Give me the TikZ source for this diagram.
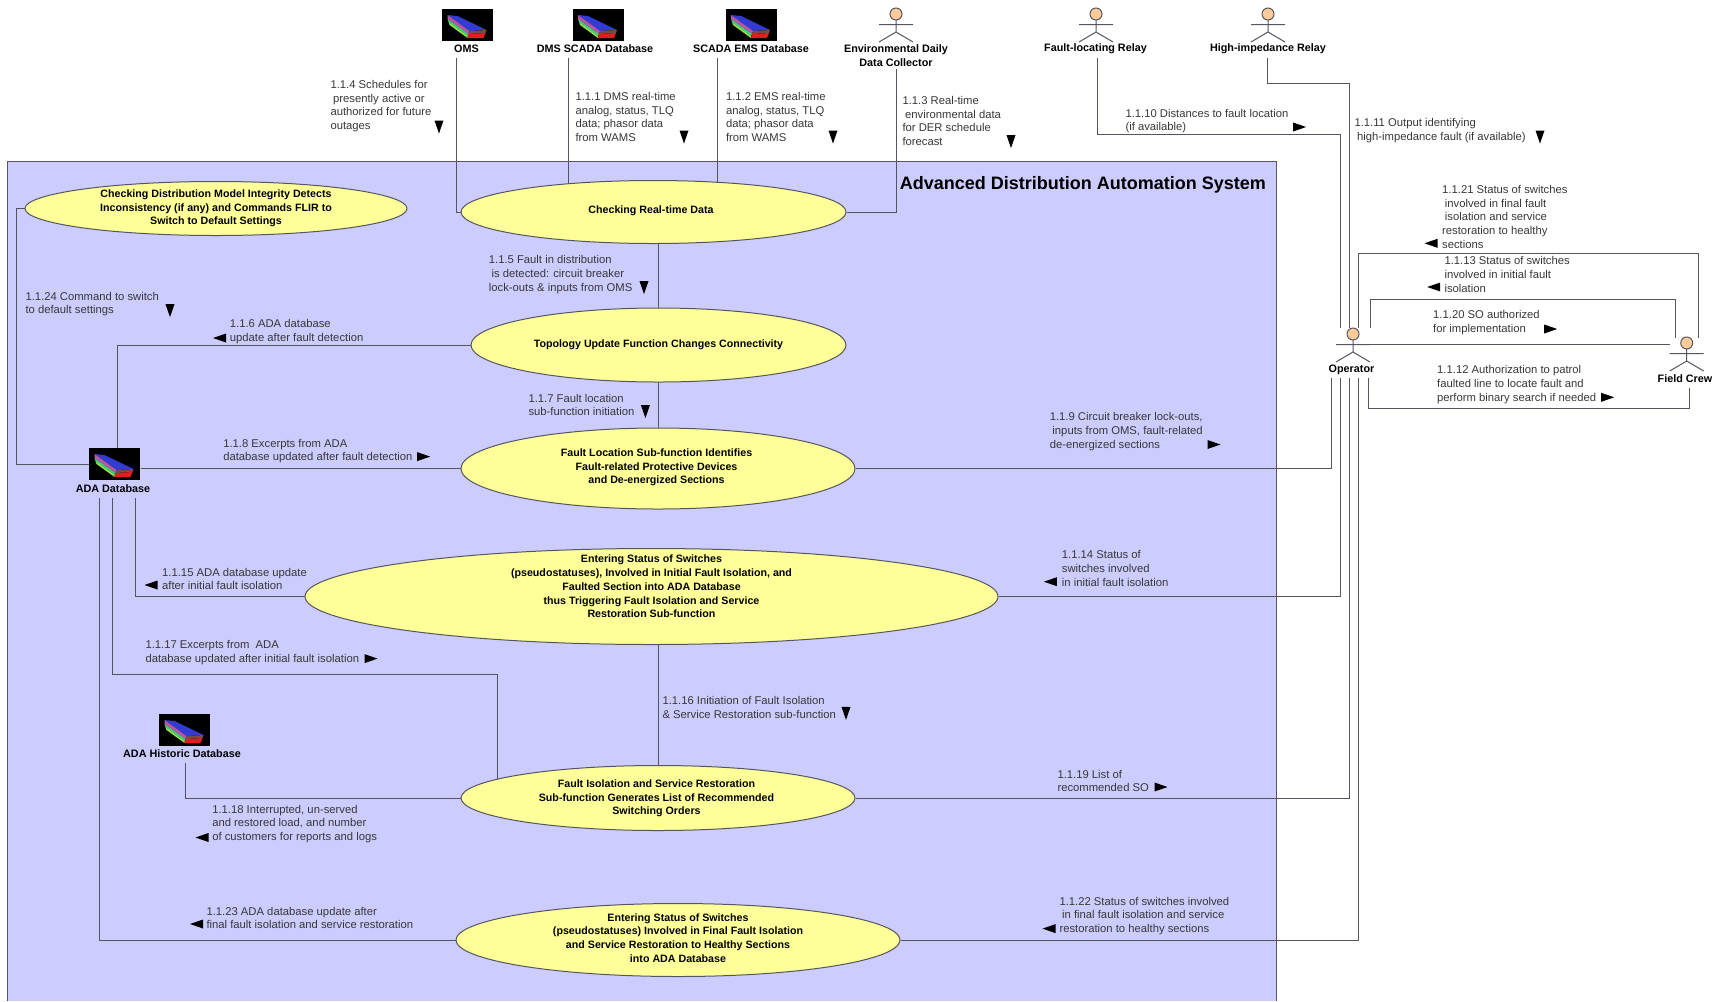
\documentclass[tikz,border=0pt]{standalone}
\usepackage{fontspec}
\setmainfont{Liberation Sans}
\usetikzlibrary{shapes.geometric,backgrounds}

\definecolor{sysblue}{RGB}{204,204,255}
\definecolor{caseyellow}{RGB}{255,255,153}
\definecolor{wirecol}{RGB}{85,85,95}
\definecolor{textcol}{RGB}{55,55,55}
\definecolor{headcol}{RGB}{255,204,153}
\definecolor{artblue}{RGB}{50,60,210}
\definecolor{artpink}{RGB}{185,85,165}
\definecolor{artgreen}{RGB}{60,205,130}
\definecolor{artlime}{RGB}{150,225,70}
\definecolor{artred}{RGB}{225,30,30}
\definecolor{artdark}{RGB}{125,70,80}

\tikzset{every picture/.style={line width=0.75pt}}
\tikzset{
  usecase/.style={draw=wirecol,fill=caseyellow,ellipse,inner sep=0pt,align=center,font=\fontsize{8}{10.3}\bfseries\selectfont},
  casetext/.style={inner sep=0pt,align=center,font=\fontsize{8}{10.3}\bfseries\selectfont},
  msg/.style={align=left,anchor=west,inner sep=0pt,text=textcol,yshift=-0.8pt,font=\fontsize{8.45}{10.3}\selectfont},
  actorname/.style={align=center,inner sep=0pt,yshift=-0.8pt,font=\fontsize{8.1}{10.3}\bfseries\selectfont},
  wire/.style={draw=wirecol},
  dbicon/.style={fill=black,inner sep=0pt,minimum width=38.25pt,minimum height=24pt},
  pics/flowmark/.style={code={\fill[black] (6.5,0) -- (-6.5,-4.5) -- (-6.5,4.5) -- cycle;}},
  pics/actor/.style={code={
    \draw[draw=wirecol,fill=headcol] (0,0) circle (6);
    \draw[draw=wirecol] (0,-6) -- (0,-18) (-17,-10.5) -- (17,-10.5) (-17,-28) -- (0,-18) -- (17,-28);}},
  pics/dbart/.style={code={
    \fill[artblue] (-20,10) -- (-10,9) -- (19,-5) -- (2,-6) -- cycle;
    \fill[artpink] (-20,10) -- (2,-6) -- (1,-9) -- (-20,6) -- cycle;
    \fill[artgreen] (-20,6) -- (1,-9) -- (0,-11) -- (-19,3) -- cycle;
    \fill[artlime] (-19,3) -- (0,-11) -- (0,-13) -- (-18,0) -- cycle;
    \fill[artdark] (2,-6) -- (19,-5) -- (18,-8) -- (1,-9) -- cycle;
    \fill[artred] (1,-9) -- (18,-8) -- (16,-13) -- (0,-13) -- cycle;}}
}

\begin{document}
\begin{tikzpicture}[x=0.75pt,y=0.75pt,yscale=-1,xscale=1]
\useasboundingbox (0,0) rectangle (1721,1001);

%Use cases
\node[usecase,minimum width=286.5pt,minimum height=40.5pt] (integrity) at (216,208.5) {Checking Distribution Model Integrity Detects\\Inconsistency (if any) and Commands FLIR to\\Switch to Default Settings};
\node[usecase,minimum width=288.75pt,minimum height=47.25pt] (realtime) at (653.5,212) {};
\node[casetext] (realtimetext) at (651,211) {Checking Real-time Data};
\node[usecase,minimum width=281.25pt,minimum height=55.5pt] (topology) at (658.5,345) {Topology Update Function Changes Connectivity};
\node[usecase,minimum width=295.5pt,minimum height=60.75pt] (faultloc) at (658,468.5) {};
\node[casetext] (faultloctext) at (656.5,467.5) {Fault Location Sub-function Identifies\\Fault-related Protective Devices\\and De-energized Sections};
\node[usecase,minimum width=519.75pt,minimum height=72pt] (initial) at (651.5,596.5) {};
\node[casetext] (initialtext) at (651.5,586.5) {Entering Status of Switches\\(pseudostatuses), Involved in Initial Fault Isolation, and\\Faulted Section into ADA Database\\thus Triggering Fault Isolation and Service\\Restoration Sub-function};
\node[usecase,minimum width=295.5pt,minimum height=48.75pt] (isolation) at (658,798) {};
\node[casetext] (isolationtext) at (656.5,798.5) {Fault Isolation and Service Restoration\\Sub-function Generates List of Recommended\\Switching Orders};
\node[usecase,minimum width=333pt,minimum height=54.75pt] (final) at (678,940) {};
\node[casetext] (finaltext) at (678,938) {Entering Status of Switches\\(pseudostatuses) Involved in Final Fault Isolation\\and Service Restoration to Healthy Sections\\into ADA Database};

%Databases
\node[dbicon] (omsicon) at (467.5,25) {};
\pic at (omsicon.center) {dbart};
\node[actorname] (omsname) at (466.5,48) {OMS};
\node[dbicon] (dmsicon) at (598,25) {};
\pic at (dmsicon.center) {dbart};
\node[actorname] (dmsname) at (595,48) {DMS SCADA Database};
\node[dbicon] (emsicon) at (751,25) {};
\pic at (emsicon.center) {dbart};
\node[actorname] (emsname) at (751,48) {SCADA EMS Database};
\node[dbicon] (adaicon) at (114.5,464) {};
\pic at (adaicon.center) {dbart};
\node[actorname] (adaname) at (113,488) {ADA Database};
\node[dbicon] (histicon) at (184.5,730) {};
\pic at (histicon.center) {dbart};
\node[actorname] (histname) at (182,753) {ADA Historic Database};

%Actors
\pic at (896,14) {actor};
\node[actorname] (envname) at (896,54.5) {Environmental Daily\\Data Collector};
\pic at (1096,14) {actor};
\node[actorname] (relayname) at (1095.5,48) {Fault-locating Relay};
\pic at (1268,14) {actor};
\node[actorname] (hifname) at (1268,48) {High-impedance Relay};
\pic at (1353,334) {actor};
\node[actorname] (opname) at (1351.5,369) {Operator};
\pic at (1686.7,343) {actor};
\node[actorname] (crewname) at (1685,378) {Field Crew};

%Free ends of the connectors
\coordinate (omsout) at (456,58);
\coordinate (dmsout) at (568.5,58);
\coordinate (emsout) at (717.5,58);
\coordinate (envout) at (896,69);
\coordinate (relayout) at (1097.7,58);
\coordinate (hifout) at (1267.3,58);
\coordinate (opa) at (1331.3,378);
\coordinate (opb) at (1340.7,378);
\coordinate (opc) at (1349.7,378);
\coordinate (opd) at (1358.7,378);
\coordinate (ope) at (1368,378);
\coordinate (opf) at (1340.7,328);
\coordinate (opg) at (1349.7,328);
\coordinate (oph) at (1358.7,328);
\coordinate (opi) at (1370,328);
\coordinate (opj) at (1370,344.3);
\coordinate (crewa) at (1675.3,338);
\coordinate (crewb) at (1698.3,338);
\coordinate (crewc) at (1670,344.3);
\coordinate (crewd) at (1689,388);
\coordinate (adaa) at (99.3,497.7);
\coordinate (adab) at (112.7,497.7);
\coordinate (adac) at (135.7,497.7);
\coordinate (histout) at (185.5,763);

\begin{scope}[on background layer]
%System box
\fill[sysblue] (7.5,161.5) rectangle (1276.5,1001);
\draw[wire] (7.5,1001) -- (7.5,161.5) -- (1276.5,161.5) -- (1276.5,1001);
%Connectors
\draw[wire] (omsout) |- (realtime.west);
\draw[wire] (dmsout) -- (dmsout |- realtime.center);
\draw[wire] (emsout) -- (emsout |- realtime.center);
\draw[wire] (envout) |- (realtime.east);
\draw[wire] (topology.center) -- (topology.center |- realtime.center);
\draw[wire] (topology.center) -- (faultloc.center -| topology.center);
\draw[wire] (isolation.center) -- (isolation.center |- initial.center);
\draw[wire] (integrity.west) -- (16.5,208.5) |- (adaicon.west);
\draw[wire] (topology.west) -| (adaicon.north -| 117.5,0);
\draw[wire] (faultloc.west -| adaicon.east) -- (faultloc.west);
\draw[wire] (adac) |- (initial.west);
\draw[wire] (adab) |- (497,674) -- (497,798);
\draw[wire] (adaa) |- (final.west);
\draw[wire] (histout) |- (isolation.west);
\draw[wire] (faultloc.east) -| (opa);
\draw[wire] (initial.east) -| (opb);
\draw[wire] (isolation.east) -| (opc);
\draw[wire] (final.east) -| (opd);
\draw[wire] (relayout) |- (1340.7,134) -- (opf);
\draw[wire] (hifout) |- (1349.7,83.3) -- (opg);
\draw[wire] (oph) |- (1698.3,253.3) -- (crewb);
\draw[wire] (opi) |- (1675.3,299) -- (crewa);
\draw[wire] (opj) -- (crewc);
\draw[wire] (ope) |- (1689,408.3) -- (crewd);
\end{scope}

%Title
\node[inner sep=0pt,font=\fontsize{13.5}{16}\bfseries\selectfont] (systitle) at (1082.8,185) {Advanced Distribution Automation System};

%Messages
\node[msg] (m4) at (330,105) {1.1.4 Schedules for\\\hspace*{2pt}presently active or\\authorized for future\\outages};
\pic[rotate=-90] at (439,127) {flowmark};
\node[msg] (m1) at (575,116) {1.1.1 DMS real-time\\analog, status, TLQ\\data; phasor data\\from WAMS};
\pic[rotate=-90] at (684,137) {flowmark};
\node[msg] (m2) at (725.5,116) {1.1.2 EMS real-time\\analog, status, TLQ\\data; phasor data\\from WAMS};
\pic[rotate=-90] at (833,137) {flowmark};
\node[msg] (m3) at (902,120) {1.1.3 Real-time\\\hspace*{2pt}environmental data\\for DER schedule\\forecast};
\pic[rotate=-90] at (1011,141.6) {flowmark};
\node[msg] (m10) at (1125,120) {1.1.10 Distances to fault location\\(if available)};
\pic at (1299.6,127) {flowmark};
\node[msg] (m11) at (1354,129.5) {1.1.11 Output identifying\\\hspace*{2pt}high-impedance fault (if available)};
\pic[rotate=-90] at (1540,137) {flowmark};
\node[msg] (m21) at (1441.7,215.7) {1.1.21 Status of switches\\\hspace*{2pt}involved in final fault\\\hspace*{2pt}isolation and service\\restoration to healthy\\sections};
\pic[rotate=180] at (1431,243.3) {flowmark};
\node[msg] (m13) at (1444,273.3) {1.1.13 Status of switches\\involved in initial fault\\isolation};
\pic[rotate=180] at (1433.7,287) {flowmark};
\node[msg] (m20) at (1432.7,321.5) {1.1.20 SO authorized\\for implementation};
\pic at (1550.7,329) {flowmark};
\node[msg] (m12) at (1436.7,383.3) {1.1.12 Authorization to patrol\\faulted line to locate fault and\\perform binary search if needed};
\pic at (1607.7,397.3) {flowmark};
\node[msg] (m24) at (25,303) {1.1.24 Command to switch\\to default settings};
\pic[rotate=-90] at (170,310.6) {flowmark};
\node[msg] (m5) at (488.4,273.3) {1.1.5 Fault in distribution\\\hspace*{2pt}is detected: circuit breaker\\lock-outs \& inputs from OMS};
\pic[rotate=-90] at (644,287.6) {flowmark};
\node[msg] (m6) at (229.4,330.4) {1.1.6 ADA database\\update after fault detection};
\pic[rotate=180] at (219.5,338) {flowmark};
\node[msg] (m7) at (528,404) {1.1.7 Fault location\\sub-function initiation};
\pic[rotate=-90] at (645.4,411.6) {flowmark};
\node[msg] (m8) at (222.8,450) {1.1.8 Excerpts from ADA\\database updated after fault detection};
\pic at (423.7,456.6) {flowmark};
\node[msg] (m9) at (1049.3,430.3) {1.1.9 Circuit breaker lock-outs,\\\hspace*{2pt}inputs from OMS, fault-related\\de-energized sections};
\pic at (1214,444.5) {flowmark};
\node[msg] (m14) at (1061.4,567.5) {1.1.14 Status of\\switches involved\\in initial fault isolation};
\pic[rotate=180] at (1050.4,581.7) {flowmark};
\node[msg] (m15) at (161.7,578) {1.1.15 ADA database update\\after initial fault isolation};
\pic[rotate=180] at (151,585) {flowmark};
\node[msg] (m17) at (145,651.4) {1.1.17 Excerpts from\ \ ADA\\database updated after initial fault isolation};
\pic at (371,658.6) {flowmark};
\node[msg] (m16) at (662,706.3) {1.1.16 Initiation of Fault Isolation\\\& Service Restoration sub-function};
\pic[rotate=-90] at (846,713.4) {flowmark};
\node[msg] (m19) at (1057,779.8) {1.1.19 List of\\recommended SO};
\pic at (1161,787) {flowmark};
\node[msg] (m18) at (211.8,823) {1.1.18 Interrupted, un-served\\and restored load, and number\\of customers for reports and logs};
\pic[rotate=180] at (202,837.5) {flowmark};
\node[msg] (m23) at (206,917) {1.1.23 ADA database update after\\final fault isolation and service restoration};
\pic[rotate=180] at (196.5,924) {flowmark};
\node[msg] (m22) at (1059,915) {1.1.22 Status of switches involved\\\hspace*{2pt}in final fault isolation and service\\restoration to healthy sections};
\pic[rotate=180] at (1049,928.6) {flowmark};

\end{tikzpicture}
\end{document}
